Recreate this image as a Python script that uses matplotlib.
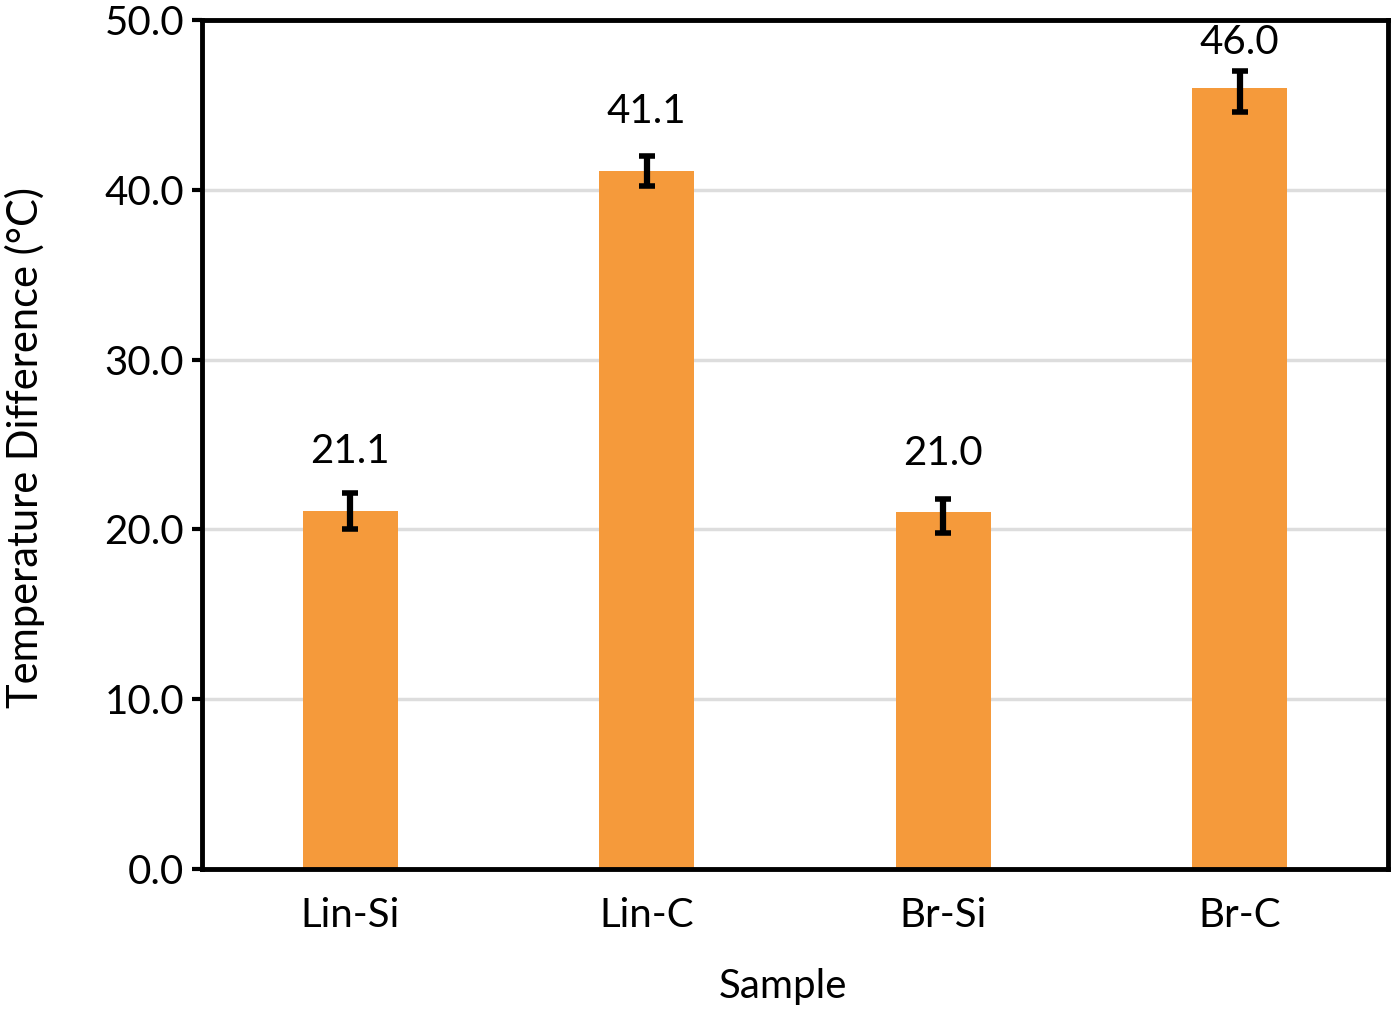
import numpy as np
import matplotlib.pyplot as plt

samples = ['Lin-Si', 'Lin-C', 'Br-Si', 'Br-C']
temp_diff = [21.1, 41.1, 21.0, 46.0]
err_center = [21.1, 41.1, 20.8, 45.8]
err_size = [1.05, 0.9, 1.0, 1.2]

plt.rcParams['font.family'] = ['Lato', 'DejaVu Sans']
fs = 29

fig = plt.figure(figsize=(13.92, 10.14), dpi=100)
ax = fig.add_axes([0.1451, 0.143, 0.852, 0.8373])

x = np.arange(len(samples))
ax.bar(x, temp_diff, width=0.32, color='#F59A3B', zorder=2)
ax.errorbar(x, err_center, yerr=err_size, fmt='none', ecolor='black',
            elinewidth=4.5, capsize=6, capthick=4, zorder=3)
# value labels sit a fixed distance above the bar, but stay inside the frame
for xi, v in zip(x, temp_diff):
    ax.text(xi, min(v + 2.4, 47.6), f'{v:.1f}', ha='center', va='bottom', fontsize=fs)

ax.set_xlim(-0.5, 3.5)
ax.set_ylim(0, 50)
ax.set_yticks(np.arange(0, 51, 10))
ax.set_yticklabels([f'{t:.1f}' for t in np.arange(0, 51, 10)])
ax.set_xticks(x)
ax.set_xticklabels(samples)
ax.tick_params(axis='x', length=0, labelsize=fs, pad=20)
ax.tick_params(axis='y', length=7, width=3, labelsize=fs, pad=6)
ax.yaxis.grid(True, color='#DDDDDD', linewidth=2.5, zorder=0)
ax.set_axisbelow(True)
for s in ax.spines.values():
    s.set_linewidth(3.5)
ax.set_xlabel('Sample', fontsize=fs)
ax.set_ylabel('Temperature Difference (°C)', fontsize=fs + 1)
ax.xaxis.set_label_coords(0.49, -0.117)
ax.yaxis.set_label_coords(-0.132, 0.497)

plt.savefig('out.png', dpi=100)
